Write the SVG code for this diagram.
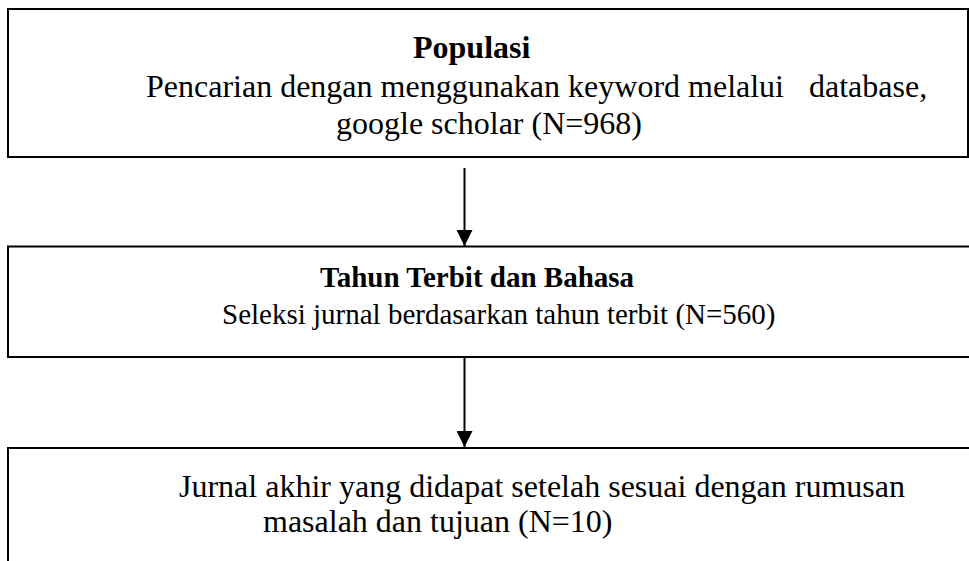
<svg xmlns="http://www.w3.org/2000/svg" width="969" height="561" viewBox="0 0 969 561">
<defs>
<style>
.box{fill:#fff;stroke:#000;stroke-width:2}
.t{font-family:"Liberation Serif","Times New Roman",serif;fill:#000}
.b{font-weight:bold}
.conn{stroke:#000;stroke-width:2;fill:none}
</style>
<marker id="ah" markerUnits="userSpaceOnUse" markerWidth="16" markerHeight="16" refX="15" refY="7.5" orient="auto" viewBox="0 0 15 15">
<path d="M0,0 L15,7.5 L0,15 Z" fill="#000"/>
</marker>
</defs>
<rect width="969" height="561" fill="#fff"/>
<g id="node-populasi">
<rect class="box" x="8" y="9" width="960" height="148"/>
<text class="t b" x="413" y="58" font-size="32">Populasi</text>
<text class="t" x="146" y="97" font-size="32">Pencarian dengan menggunakan keyword melalui<tspan x="809">database,</tspan></text>
<text class="t" x="336" y="134" font-size="32">google scholar (N=968)</text>
</g>
<g id="node-tahun">
<rect class="box" x="8" y="246.5" width="975" height="110.5"/>
<text class="t b" x="320" y="287" font-size="29">Tahun Terbit dan Bahasa</text>
<text class="t" x="222" y="324" font-size="29">Seleksi jurnal berdasarkan tahun terbit (N=560)</text>
</g>
<g id="node-jurnal">
<rect class="box" x="8" y="448" width="975" height="130"/>
<text class="t" x="179" y="497" font-size="32">Jurnal akhir yang didapat setelah sesuai dengan rumusan</text>
<text class="t" x="263" y="532" font-size="32">masalah dan tujuan (N=10)</text>
</g>
<g id="connectors">
<line class="conn" x1="464.5" y1="168" x2="464.5" y2="246" marker-end="url(#ah)"/>
<line class="conn" x1="464.5" y1="357" x2="464.5" y2="447" marker-end="url(#ah)"/>
</g>
</svg>
